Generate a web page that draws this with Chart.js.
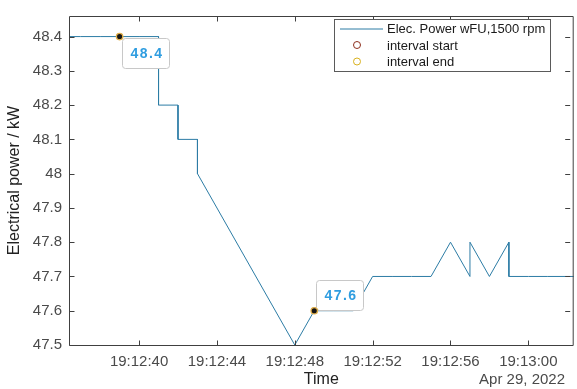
<!DOCTYPE html>
<html><head><meta charset="utf-8">
<script src="https://cdn.jsdelivr.net/npm/chart.js@4.4.1/dist/chart.umd.min.js"></script>
<style>
html,body{margin:0;padding:0;overflow:hidden;background:#fff;width:577px;height:389px}
#wrap{position:absolute;left:0;top:0;width:579px;height:389px}
</style>
</head><body><div id="wrap"><canvas id="c"></canvas></div>
<script>
// ---- data ----
const times = ['19:12:36','19:12:37','19:12:38','19:12:39','19:12:40','19:12:41','19:12:41','19:12:42','19:12:42','19:12:43','19:12:43','19:12:48','19:12:49','19:12:50','19:12:51','19:12:52','19:12:53','19:12:54','19:12:55','19:12:56','19:12:57','19:12:57','19:12:58','19:12:59','19:12:59','19:13:00','19:13:01','19:13:02','19:13:03'];
const power = [48.4,48.4,48.4,48.4,48.4,48.4,48.2,48.2,48.1,48.1,48.0,47.5,47.6,47.6,47.6,47.7,47.7,47.7,47.7,47.8,47.7,47.8,47.7,47.8,47.7,47.7,47.7,47.7,47.7];
const startTime = ['19:12:39'];
const startPower = [48.4];
const endTime = ['19:12:49'];
const endPower = [47.6];
const xTickLabels = ['19:12:40','19:12:44','19:12:48','19:12:52','19:12:56','19:13:00'];
const yTickLabels = ['47.5','47.6','47.7','47.8','47.9','48','48.1','48.2','48.3','48.4'];
const xRange = ['19:12:36.4','19:13:02.33'];
const yRange = [47.5, 48.46];
const seriesNames = ['Elec. Power wFU,1500 rpm','interval start','interval end'];
const xTitle = 'Time';
const yTitle = 'Electrical power / kW';
const dateLabel = 'Apr 29, 2022';

// ---- helpers ----
function sec(s){const p=s.split(':');return (+p[0])*3600+(+p[1])*60+parseFloat(p[2]);}
const pts = (t,v)=>t.map((x,i)=>({x:sec(x),y:v[i]}));

const LINE = '#2c7ca5';
const AX = '#404040';
const TXT = '#4a4a4a';
const FONT = "'Liberation Sans', Arial, sans-serif";

const decor = {
  id:'decor',
  afterDatasetDraw(chart, args){
    if (args.index !== 0) return;
    const ctx = chart.ctx;
    const tips = [
      {meta: chart.getDatasetMeta(1), text: startPower[0].toFixed(1), dx: 2, dy: 1},
      {meta: chart.getDatasetMeta(2), text: endPower[0].toFixed(1), dx: 2, dy: -31}
    ];
    ctx.save();
    tips.forEach(t=>{
      const p = t.meta.data[0];
      const x = Math.round(p.x + t.dx) + 0.5, y = Math.round(p.y + t.dy) + 0.5;
      const w = 47, h = 30, r = 3;
      ctx.beginPath();
      ctx.moveTo(x+r,y);ctx.lineTo(x+w-r,y);ctx.quadraticCurveTo(x+w,y,x+w,y+r);
      ctx.lineTo(x+w,y+h-r);ctx.quadraticCurveTo(x+w,y+h,x+w-r,y+h);
      ctx.lineTo(x+r,y+h);ctx.quadraticCurveTo(x,y+h,x,y+h-r);
      ctx.lineTo(x,y+r);ctx.quadraticCurveTo(x,y,x+r,y);ctx.closePath();
      ctx.fillStyle='#fff';ctx.fill();
      ctx.strokeStyle='#c8c8c8';ctx.lineWidth=1;ctx.stroke();
      ctx.fillStyle='#2f9de0';
      ctx.font="bold 14px "+FONT;
      try{ctx.letterSpacing='1.5px';}catch(e){}
      ctx.textAlign='center';ctx.textBaseline='middle';
      ctx.fillText(t.text, x+w/2+1, y+h/2+1);
      try{ctx.letterSpacing='0px';}catch(e){}
    });
    ctx.restore();
  },
  afterDraw(chart){
    const ctx = chart.ctx, a = chart.chartArea;
    const xs = chart.scales.x, ys = chart.scales.y;
    ctx.save();
    ctx.strokeStyle = AX; ctx.lineWidth = 1;
    const L = a.left+0.5, R = a.right-0.5, T = a.top+0.5, B = a.bottom+0.5;
    ctx.beginPath();
    ctx.moveTo(L,B);ctx.lineTo(L,T);ctx.lineTo(R,T);ctx.lineTo(R,B);ctx.lineTo(L,B);
    ctx.stroke();
    const tl = 5;
    ctx.beginPath();
    xs.ticks.forEach(t=>{
      const px = Math.round(xs.getPixelForValue(t.value))+0.5;
      ctx.moveTo(px,B);ctx.lineTo(px,B-tl);
      ctx.moveTo(px,T);ctx.lineTo(px,T+tl);
    });
    ys.ticks.forEach(t=>{
      const py = Math.round(ys.getPixelForValue(t.value))+0.5;
      ctx.moveTo(L,py);ctx.lineTo(L+tl,py);
      ctx.moveTo(R-3,py);ctx.lineTo(R-3-tl,py);
    });
    ctx.stroke();
    ctx.fillStyle = TXT; ctx.font = '15px '+FONT;
    ctx.textAlign='right'; ctx.textBaseline='middle';
    ctx.fillText(dateLabel, 565, 380);
    const lx = 334.5, ly = 19.5, lw = 216, lh = 52;
    ctx.fillStyle='#fff';ctx.fillRect(lx,ly,lw,lh);
    ctx.strokeStyle='#5a5a5a';ctx.strokeRect(lx,ly,lw,lh);
    const rows = [28.5, 45, 61.5];
    ctx.strokeStyle = LINE; ctx.lineWidth=1;
    ctx.beginPath();ctx.moveTo(340,rows[0]+0.5);ctx.lineTo(383,rows[0]+0.5);ctx.stroke();
    [['#8e2f1e',rows[1]],['#d9b21f',rows[2]]].forEach(([c,y])=>{
      ctx.beginPath();ctx.arc(357,y,3.5,0,Math.PI*2);ctx.strokeStyle=c;ctx.stroke();
    });
    ctx.fillStyle='#1a1a1a';ctx.font='13px '+FONT;ctx.textAlign='left';ctx.textBaseline='middle';
    seriesNames.forEach((n,i)=>ctx.fillText(n,387,rows[i]+1));
    ctx.restore();
  }
};

new Chart(document.getElementById('c'), {
  type:'line',
  data:{datasets:[
    {label:seriesNames[0], data:pts(times,power), borderColor:LINE, borderWidth:1, pointRadius:0, tension:0, order:2},
    {label:seriesNames[1], data:pts(startTime,startPower), showLine:false, pointRadius:3.2, pointBackgroundColor:'#151515', pointBorderColor:'#e2b04a', pointBorderWidth:1.3, order:1, clip:false},
    {label:seriesNames[2], data:pts(endTime,endPower), showLine:false, pointRadius:3.2, pointBackgroundColor:'#151515', pointBorderColor:'#e2b04a', pointBorderWidth:1.3, order:1, clip:false}
  ]},
  options:{
    responsive:true, maintainAspectRatio:false, animation:false,
    layout:{padding:{top:7,left:0,right:0,bottom:0}},
    plugins:{legend:{display:false}, tooltip:{enabled:false}},
    events:[],
    scales:{
      x:{type:'linear', min:sec(xRange[0]), max:sec(xRange[1]),
        grid:{display:false, drawTicks:false}, border:{display:false},
        afterBuildTicks:s=>{s.ticks = xTickLabels.map(l=>({value:sec(l)}));},
        afterFit:s=>{s.height = 44;},
        ticks:{autoSkip:false, maxRotation:0, padding:8, color:TXT, font:{family:FONT,size:15},
          callback:(v)=>{const i = xTickLabels.findIndex(l=>Math.abs(sec(l)-v)<1e-6); return i>=0?xTickLabels[i]:'';}},
        title:{display:true, text:xTitle, color:'#222', font:{family:FONT,size:16}, padding:{top:0,bottom:0}}
      },
      y:{type:'linear', min:yRange[0], max:yRange[1],
        grid:{display:false, drawTicks:false}, border:{display:false},
        afterBuildTicks:s=>{s.ticks = yTickLabels.map(l=>({value:parseFloat(l)}));},
        afterFit:s=>{s.width = 69;},
        ticks:{autoSkip:false, padding:7, color:TXT, font:{family:FONT,size:15},
          callback:(v)=>{const i = yTickLabels.findIndex(l=>Math.abs(parseFloat(l)-v)<1e-6); return i>=0?yTickLabels[i]:'';}},
        title:{display:true, text:yTitle, color:'#222', font:{family:FONT,size:16}, padding:{top:5,bottom:0}}
      }
    }
  },
  plugins:[decor]
});
</script>
</body></html>
